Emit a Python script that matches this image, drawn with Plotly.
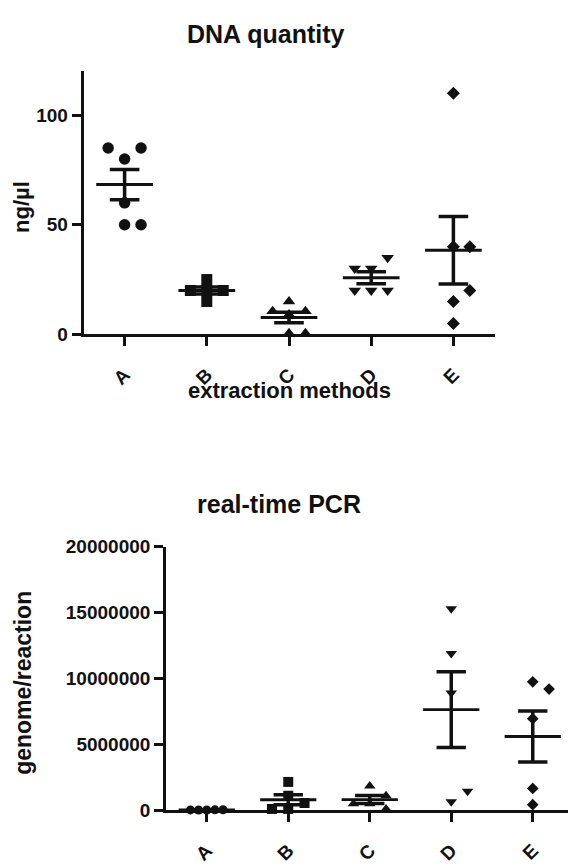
import numpy as np
import plotly.graph_objects as go

# ---------------- data ----------------
methods = ["A", "B", "C", "D", "E"]

# DNA quantity (ng/µl), one list per extraction method
dna_A = [80, 85, 85, 60, 50, 50]
dna_B = [20, 20, 20, 25, 15]
dna_C = [15, 10.5, 10.5, 0.5, 0.5, 9]
dna_D = [30, 35, 30, 20, 20, 20]
dna_E = [110, 40, 40, 15, 20, 5]

# real-time PCR (genome/reaction)
pcr_A = [20000, 30000, 15000, 40000, 25000]
pcr_B = [2150000, 1100000, 550000, 100000, 100000]
pcr_C = [1850000, 1100000, 500000, 500000, 100000]
pcr_D = [15300000, 11900000, 8900000, 650000, 1450000]
pcr_E = [9750000, 9200000, 6950000, 1660000, 420000]

dna_yticks = [0, 50, 100]
dna_yticklabels = ["0", "50", "100"]
pcr_yticks = [0, 5000000, 10000000, 15000000, 20000000]
pcr_yticklabels = ["0", "5000000", "10000000", "15000000", "20000000"]

# ---------------- layout geometry (pixels) ----------------
W, H = 568, 865
TOP = dict(x0=83.5, x1=494.5, ytop=63.5, ybot=336.0, xr=[-0.5, 4.5], yr=[0, 120])
BOT = dict(x0=166.0, x1=568.0, ytop=556.0, ybot=829.0,
           xr=[-0.5, -0.5 + (568.0 - 166.0) / 81.5], yr=[0, 20000000])

FONT = "Liberation Sans, Arial, Helvetica, sans-serif"
BLACK = "#111111"


def swarm(values, center, step, ppx, ppy, spread):
    """Simple column-scatter placement: move a point sideways while it overlaps."""
    placed, xs = [], []
    order = [0, 1, -1, 2, -2, 3, -3, 4, -4, 5, -5]
    for v in values:
        x = center
        for k in order:
            x = center + k * step
            if all(not (abs((x - px) * ppx) < spread and abs((v - py) * ppy) < spread)
                   for px, py in placed):
                break
        placed.append((x, v))
        xs.append(x)
    return xs


fig = go.Figure()


def add_panel(groups, geo, xa, ya, symbols, sizes, spreads, step):
    ppx = (geo["x1"] - geo["x0"]) / (geo["xr"][1] - geo["xr"][0])
    ppy = (geo["ybot"] - geo["ytop"]) / (geo["yr"][1] - geo["yr"][0])
    mean_x, mean_y, bar_x, bar_y = [], [], [], []
    for i, vals in enumerate(groups):
        xs = swarm(vals, i, step, ppx, ppy, spreads[i])
        fig.add_trace(go.Scatter(
            x=xs, y=vals, mode="markers", xaxis=xa, yaxis=ya, cliponaxis=False,
            marker=dict(symbol=symbols[i], size=sizes[i], color=BLACK, line=dict(width=0)),
            hoverinfo="y"))
        arr = np.asarray(vals, dtype=float)
        m = arr.mean()
        sem = arr.std(ddof=1) / np.sqrt(len(arr))
        mean_x += [i - 0.345, i + 0.345, None]
        mean_y += [m, m, None]
        bar_x += [i - 0.18, i + 0.18, None, i, i, None, i - 0.18, i + 0.18, None]
        bar_y += [m + sem, m + sem, None, m + sem, m - sem, None, m - sem, m - sem, None]
    fig.add_trace(go.Scatter(x=mean_x, y=mean_y, mode="lines", xaxis=xa, yaxis=ya,
                             cliponaxis=False, line=dict(color=BLACK, width=2.9),
                             hoverinfo="skip"))
    fig.add_trace(go.Scatter(x=bar_x, y=bar_y, mode="lines", xaxis=xa, yaxis=ya,
                             cliponaxis=False, line=dict(color=BLACK, width=3.5),
                             hoverinfo="skip"))


add_panel([dna_A, dna_B, dna_C, dna_D, dna_E], TOP, "x", "y",
          ["circle", "square", "triangle-up", "triangle-down", "diamond"],
          [11.5, 11, 11, 11, 10], [12, 11, 12, 12, 13], 0.1)
add_panel([pcr_A, pcr_B, pcr_C, pcr_D, pcr_E], BOT, "x2", "y2",
          ["circle", "square", "triangle-up", "triangle-down", "diamond"],
          [9, 10, 10, 10, 9], [8, 10, 11, 11, 11], 0.1)


def xdom(g):
    return [g["x0"] / W, g["x1"] / W]


def ydom(g):
    return [(H - g["ybot"]) / H, (H - g["ytop"]) / H]


axis_common = dict(showgrid=False, zeroline=False, showline=True, linecolor=BLACK,
                   linewidth=2.7, ticks="outside", ticklen=9, tickwidth=2.7,
                   tickcolor=BLACK, fixedrange=True,
                   tickfont=dict(family=FONT, size=19, color=BLACK, weight="bold"))

fig.update_layout(
    width=W, height=H, margin=dict(l=0, r=0, t=0, b=0),
    paper_bgcolor="white", plot_bgcolor="white", showlegend=False,
    xaxis=dict(domain=xdom(TOP), range=TOP["xr"], tickvals=list(range(5)), ticktext=methods,
               tickangle=-45, ticklabelstandoff=10, anchor="y", **axis_common),
    yaxis=dict(domain=ydom(TOP), range=TOP["yr"], tickvals=dna_yticks, ticktext=dna_yticklabels,
               anchor="x", **axis_common),
    xaxis2=dict(domain=xdom(BOT), range=BOT["xr"], tickvals=list(range(5)), ticktext=methods,
                tickangle=-45, ticklabelstandoff=10, anchor="y2", **axis_common),
    yaxis2=dict(domain=ydom(BOT), range=BOT["yr"], tickvals=pcr_yticks, ticktext=pcr_yticklabels,
                anchor="x2", **axis_common),
)


def label(text, xpx, ypx, size, angle=0):
    fig.add_annotation(text=text, x=xpx / W, y=(H - ypx) / H, xref="paper", yref="paper",
                       showarrow=False, textangle=angle, xanchor="center", yanchor="middle",
                       font=dict(family=FONT, size=size, color=BLACK, weight="bold"))


label("DNA quantity", 265, 25, 25)
label("real-time PCR", 279, 512, 25)
label("extraction methods", 289, 394, 22)
label("ng/µl", 22, 204, 22, -90)
label("genome/reaction", 23, 697, 23, -90)

fig.write_html(
    "out.html",
    config={"displayModeBar": False},
    post_script="document.body.style.margin='0';document.body.style.padding='0';"
                "document.body.style.overflow='hidden';",
)
